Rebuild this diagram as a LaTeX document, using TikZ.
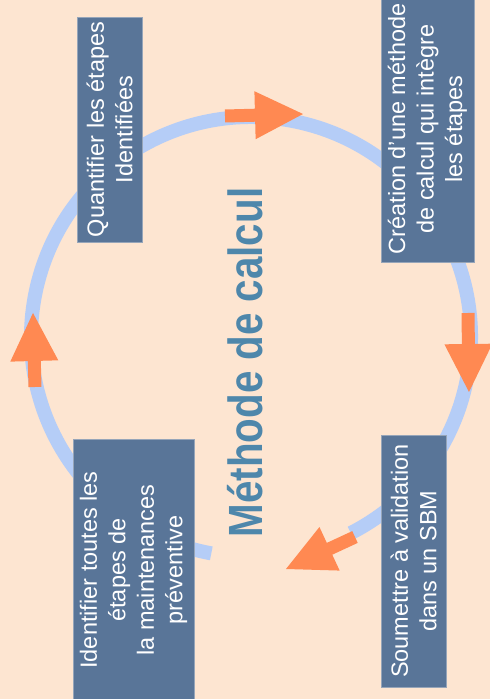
\documentclass[tikz,border=0pt]{standalone}
\usepackage{fontspec}
\setmainfont{Liberation Sans}
\newfontfamily\titlefont[FakeStretch=0.84]{Liberation Sans}
\usetikzlibrary{calc}
\definecolor{bgc}{RGB}{253,229,209}
\definecolor{ringc}{RGB}{181,205,247}
\definecolor{arrowc}{RGB}{255,137,82}
\definecolor{boxc}{RGB}{89,117,152}
\definecolor{boxedge}{RGB}{150,165,185}
\definecolor{titlec}{RGB}{78,135,171}
\tikzset{
  stepbox/.style={fill=boxc, draw=boxedge, line width=0.6pt, rotate=90, inner sep=0pt,
    text=white, align=center, font=\fontsize{23.5}{28.5}\selectfont},
  ring/.style={draw=ringc, line width=14pt},
}
\newcommand\flowarrow[1]{%
  \coordinate (#1-b) at ($(#1-tip)!48pt!(#1-tail)$);
  \fill[arrowc] ($(#1-tail)!6.5pt!90:(#1-tip)$) -- ($(#1-b)!6.5pt!90:(#1-tip)$)
    -- ($(#1-b)!24pt!90:(#1-tip)$) -- (#1-tip) -- ($(#1-b)!24pt!-90:(#1-tip)$)
    -- ($(#1-b)!6.5pt!-90:(#1-tip)$) -- ($(#1-tail)!6.5pt!-90:(#1-tip)$) -- cycle;}
\begin{document}
\begin{tikzpicture}[x=1pt,y=1pt]
\useasboundingbox (0,0) rectangle (490,699);
\clip (0,0) rectangle (490,699);
\fill[bgc] (0,0) rectangle (490,699);
% ring
\coordinate (ctr) at (251,362);
\draw[ring] (ctr) ++(259.6:220) arc[start angle=259.6, end angle=-63, radius=220];
% arrows
\coordinate (top-tail) at (225,583);   \coordinate (top-tip) at (303,585);
\coordinate (right-tail) at (468,386); \coordinate (right-tip) at (469,307);
\coordinate (bot-tail) at (355,162);   \coordinate (bot-tip) at (286,130);
\coordinate (left-tail) at (35,312);   \coordinate (left-tip) at (33,386);
\flowarrow{top}
\flowarrow{right}
\flowarrow{bot}
\flowarrow{left}
% boxes
\node[stepbox, minimum width=225pt, minimum height=65pt] (quant) at (109.5,569.5)
  {Quantifier les étapes\\Identifiées};
\node[stepbox, minimum width=266pt, minimum height=93pt] (crea) at (427.5,570)
  {Création d’une méthode\\de calcul qui intègre\\les étapes};
\node[stepbox, minimum width=262pt, minimum height=121pt] (ident) at (133.5,129)
  {Identifier toutes les\\étapes de\\la maintenances\\préventive};
\node[stepbox, minimum width=252pt, minimum height=65pt] (soum) at (413.5,138)
  {Soumettre à validation\\dans un SBM};
% title
\node[font=\titlefont\bfseries\fontsize{48}{48}\selectfont, text=titlec, rotate=90,
  anchor=base, inner sep=0pt] (title) at (262,336.5) {Méthode de calcul};
\end{tikzpicture}
\end{document}
